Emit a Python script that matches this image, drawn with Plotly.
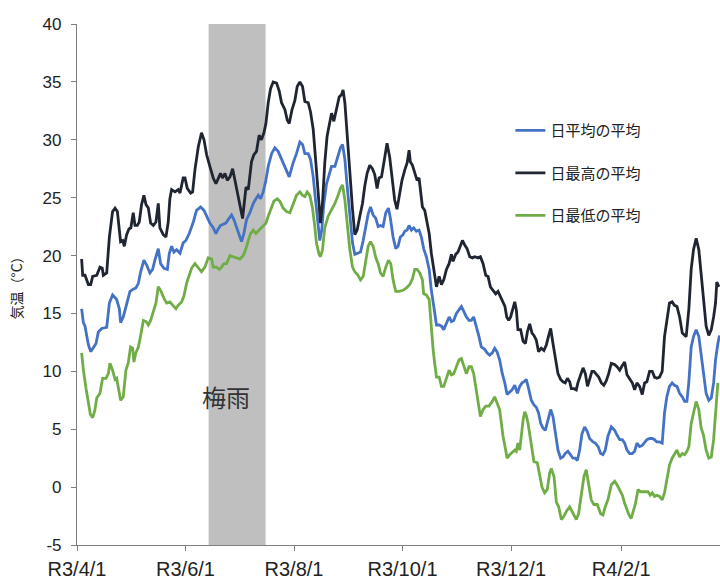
import pandas as pd
import plotly.graph_objects as go

START = pd.Timestamp("2021-04-01")

# ---- data: day offsets from R3/4/1 and values (°C) ----
avg_day = [2.6, 3.6, 4.5, 6.4, 7.7, 9.2, 10.7, 12.0, 13.9, 16.7, 18.2, 20.0, 22.3, 23.8, 24.5, 26.0, 27.9, 29.8,
           31.6, 33.1, 34.5, 35.8, 37.6, 39.1, 41.0, 42.5, 43.8, 45.7, 47.0, 48.9, 50.8, 51.9, 53.2, 54.5, 56.0,
           57.9, 59.7, 61.2, 63.1, 65.4, 67.2, 69.5, 71.4, 72.9, 74.7, 76.6, 78.1, 79.4, 80.7, 82.2, 83.7, 85.0,
           86.9, 88.2, 89.7, 91.2, 92.5, 93.8, 95.3, 97.2, 99.1, 100.6, 101.9, 103.2, 104.7, 106.2, 107.5, 109.4,
           111.2, 113.1, 115.0, 117.4, 119.3, 121.5, 123.4, 125.3, 126.8, 128.1, 130.0, 131.3, 132.8, 134.3,
           135.6, 136.5, 137.6, 138.8, 140.3, 141.8, 143.1, 145.0, 146.8, 148.1, 149.3, 150.6, 151.9, 153.4,
           154.9, 156.2, 158.0, 159.4, 160.9, 162.4, 163.7, 165.0, 166.5, 168.0, 169.3, 170.6, 172.1, 173.6,
           175.1, 176.2, 177.7, 179.2, 180.5, 181.8, 183.3, 184.3, 185.6, 186.7, 188.0, 189.3, 190.8, 192.3,
           193.6, 194.9, 196.4, 198.0, 199.2, 200.6, 202.1, 203.6, 204.9, 206.2, 207.7, 209.2, 210.5, 211.8,
           213.3, 214.8, 216.1, 217.4, 218.9, 220.4, 221.7, 223.0, 224.5, 226.0, 227.3, 229.2, 230.5, 232.0,
           233.5, 234.8, 236.1, 237.6, 239.1, 240.5, 241.8, 243.3, 244.6, 246.1, 247.6, 248.9, 250.2, 251.3,
           252.6, 253.9, 255.4, 256.9, 258.2, 259.5, 260.7, 262.0, 263.3, 264.8, 266.3, 267.6, 268.9, 270.4,
           271.9, 273.2, 274.5, 276.0, 277.5, 278.8, 280.1, 281.3, 282.6, 283.9, 285.4, 286.9, 288.2, 290.1,
           291.4, 293.0, 294.4, 295.7, 297.0, 298.5, 300.4, 302.3, 303.6, 305.1, 306.6, 307.9, 309.2, 310.7,
           312.2, 313.5, 314.8, 316.3, 317.8, 319.1, 320.4, 321.9, 323.4, 324.7, 326.0, 327.5, 329.0, 330.3,
           331.6, 333.1, 334.6, 335.9, 337.3, 338.8, 340.3, 341.6, 342.9, 344.0, 345.3, 346.6, 348.1, 349.6,
           350.9, 352.2, 353.7, 355.2, 356.6, 357.9, 359.0, 360.3, 361.2]
avg_val = [15.4, 14.2, 13.9, 12.3, 11.7, 12.0, 12.4, 13.4, 13.7, 13.8, 15.9, 16.6, 16.2, 15.4, 14.2, 14.7, 15.9, 16.9,
           17.1, 17.2, 17.6, 18.6, 19.6, 19.2, 18.5, 18.8, 19.6, 20.6, 19.3, 18.9, 18.8, 20.2, 20.8, 20.3, 20.5,
           20.2, 21.1, 21.3, 21.9, 22.9, 23.9, 24.2, 23.9, 23.4, 22.8, 22.4, 21.9, 22.3, 22.6, 22.7, 22.8, 23.1,
           23.5, 23.1, 22.4, 21.8, 21.2, 21.9, 23.1, 23.7, 24.5, 24.9, 25.2, 24.9, 25.5, 26.5, 27.7, 28.8,
           29.3, 29.0, 28.3, 27.4, 26.8, 28.0, 28.8, 29.8, 29.6, 28.8, 28.8, 28.3, 26.8, 24.5,
           22.5, 21.3, 22.2, 24.5, 26.2, 27.1, 27.7, 27.7, 28.7, 29.3, 29.6, 28.3, 26.0, 23.4,
           21.1, 20.1, 20.2, 20.3, 21.3, 22.5, 23.6, 24.2, 23.5, 23.2, 22.5, 22.6, 22.5, 23.7,
           24.1, 23.2, 21.6, 20.6, 20.8, 21.6, 21.8, 22.1, 22.2, 22.6, 22.2, 22.4, 22.1, 22.2,
           21.6, 20.6, 19.9, 18.8, 17.0, 15.6, 14.0, 14.0, 13.9, 13.6, 14.2, 14.7, 14.3, 14.4,
           15.0, 15.3, 15.6, 15.2, 14.7, 14.4, 14.4, 14.7, 13.9, 13.0, 12.1, 11.9, 11.6, 11.4,
           11.6, 12.0, 11.7, 11.0, 9.8, 9.0, 8.0, 8.2, 8.4, 8.8, 8.1, 8.7, 9.0, 9.1,
           9.3, 8.5, 7.5, 7.1, 6.9, 6.4, 5.5, 5.1, 4.9, 5.8, 6.7, 6.1, 4.6, 3.2,
           2.5, 2.6, 2.9, 3.1, 2.8, 2.5, 2.5, 2.3, 3.2, 4.6, 5.2, 4.8, 4.2, 3.9,
           3.8, 3.5, 2.9, 2.8, 3.2, 4.4, 5.2, 4.9, 4.5, 4.1, 4.1, 3.8, 3.2, 2.9,
           2.9, 3.1, 3.8, 3.5, 3.6, 3.9, 4.1, 4.2, 4.2, 4.1, 3.9, 3.9, 3.8, 6.4,
           7.8, 8.7, 9.0, 8.8, 8.7, 8.1, 7.8, 7.4, 7.4, 9.1, 12.1, 13.0, 13.6, 13.0,
           11.3, 9.8, 8.1, 7.5, 7.7, 9.0, 11.0, 12.4, 13.1]

max_day = [2.6, 3.2, 4.5, 6.4, 7.7, 8.8, 11.1, 12.9, 14.2, 14.8, 16.7, 18.2, 20.0, 21.4, 22.7, 23.8, 24.5, 25.7,
           26.6, 27.9, 29.2, 30.3, 31.6, 32.6, 33.9, 35.0, 36.3, 37.6, 38.8, 40.1, 41.4, 42.9, 44.4, 45.7, 46.6,
           48.5, 50.0, 51.3, 52.2, 53.2, 55.1, 56.9, 57.9, 59.7, 60.7, 62.0, 63.9, 65.0, 66.3, 68.2, 70.0, 71.4,
           72.9, 74.7, 76.6, 78.1, 79.4, 80.7, 81.8, 83.2, 84.5, 86.0, 87.5, 88.8, 90.1, 91.6, 93.1, 93.8, 95.0,
           96.3, 97.2, 98.1, 99.4, 100.9, 102.4, 103.7, 105.1, 106.2, 107.5, 108.8, 110.3, 112.2, 113.7, 115.0,
           116.9, 118.2, 119.3, 120.9, 122.5, 123.8, 125.3, 126.8, 128.1, 130.0, 131.3, 132.8, 134.3, 135.6,
           136.9, 138.0, 139.3, 140.6, 141.8, 143.1, 144.4, 145.9, 147.4, 148.7, 149.6, 150.6, 151.9, 153.4,
           154.9, 156.2, 157.5, 159.0, 160.5, 161.8, 163.1, 164.6, 166.1, 167.4, 168.7, 169.8, 171.2, 172.5,
           174.3, 175.8, 177.3, 178.6, 179.9, 181.3, 182.7, 184.3, 185.6, 186.7, 187.4, 188.6, 189.9, 191.2,
           192.3, 193.1, 194.2, 195.5, 196.8, 198.0, 199.2, 200.2, 201.1, 202.1, 203.6, 204.9, 206.2, 207.7,
           209.2, 210.5, 211.4, 212.9, 214.2, 215.5, 216.7, 218.0, 219.3, 220.8, 222.3, 223.6, 225.5, 226.8,
           228.3, 229.8, 231.1, 232.4, 233.9, 235.4, 236.7, 238.0, 239.5, 240.6, 241.6, 242.7, 243.8, 245.0,
           246.1, 247.0, 247.9, 249.4, 250.8, 252.1, 253.2, 254.5, 255.8, 256.9, 258.2, 259.5, 261.0, 262.5,
           263.9, 265.2, 266.3, 267.6, 268.9, 270.4, 271.9, 273.2, 274.5, 275.7, 277.0, 277.9, 279.4, 280.7,
           281.6, 283.2, 284.5, 285.8, 287.0, 288.2, 289.5, 290.6, 291.9, 293.3, 294.8, 296.2, 297.6, 298.9,
           300.4, 302.2, 303.6, 305.1, 306.6, 307.9, 309.2, 310.7, 312.2, 313.5, 314.8, 316.3, 317.8, 319.1,
           320.4, 321.9, 323.4, 324.7, 326.0, 327.5, 329.0, 330.3, 331.6, 333.1, 334.6, 335.9, 337.3, 338.8,
           340.3, 341.6, 342.5, 344.0, 345.3, 346.6, 348.1, 349.6, 350.9, 352.2, 353.7, 355.2, 356.6, 357.9,
           359.0, 359.7, 360.9]
max_val = [19.7, 18.3, 18.3, 17.5, 17.5, 18.2, 18.3, 19.0, 18.9, 18.3, 18.5, 21.6, 23.8, 24.1, 23.8, 22.1, 21.2, 21.3,
           20.8, 21.8, 22.3, 22.4, 23.7, 22.6, 22.6, 22.9, 24.4, 25.2, 24.4, 24.1, 22.8, 22.6, 22.9, 24.5, 22.4,
           21.8, 21.6, 22.9, 24.9, 25.7, 25.5, 25.7, 25.4, 26.7, 26.7, 25.8, 25.4, 25.5, 27.4, 29.4, 30.6, 30.0,
           28.7, 27.7, 26.7, 26.2, 26.7, 27.1, 26.7, 27.1, 26.5, 26.8, 27.5, 26.5, 25.7, 24.5, 23.2, 24.2, 25.9,
           25.7, 26.8, 28.1, 28.7, 29.0, 30.4, 30.0, 30.6, 31.4, 33.2, 34.4, 35.0, 34.9, 34.2, 33.2,
           32.6, 31.7, 31.4, 32.6, 33.4, 34.6, 35.0, 34.6, 33.3, 33.2, 32.4, 30.9, 28.0, 25.1,
           22.8, 24.5, 28.0, 30.3, 31.4, 32.3, 31.6, 32.6, 33.7, 33.9, 34.3, 33.2, 30.3, 27.4,
           24.0, 21.8, 22.2, 23.4, 24.5, 26.0, 27.1, 27.8, 27.5, 27.0, 25.8, 26.7, 26.8, 28.0,
           29.7, 28.5, 26.2, 24.8, 24.0, 25.2, 26.5, 27.4, 28.0, 29.1, 28.1, 27.8, 27.1, 26.5,
           26.7, 25.8, 24.2, 23.9, 22.8, 21.9, 20.2, 19.3, 18.5, 17.3, 18.2, 17.5, 17.9, 18.8,
           19.3, 20.1, 19.5, 20.1, 20.3, 20.8, 21.3, 20.9, 20.6, 19.9, 19.8, 19.9, 19.8, 19.9,
           19.3, 18.3, 18.2, 17.3, 17.0, 16.7, 16.9, 16.5, 15.9, 15.6, 14.7, 14.4, 14.7, 15.4,
           16.0, 15.3, 13.6, 13.6, 12.6, 12.4, 13.4, 14.1, 13.3, 13.1, 12.7, 11.7, 12.0, 11.8,
           12.3, 13.1, 13.7, 12.4, 11.0, 9.8, 9.3, 9.1, 9.0, 9.4, 9.1, 8.5, 8.5, 8.4,
           9.0, 9.8, 10.3, 9.8, 8.7, 9.3, 10.0, 10.0, 9.8, 9.5, 9.0, 8.8, 9.2, 9.8,
           10.7, 10.6, 10.4, 10.1, 10.5, 10.8, 9.7, 9.4, 9.0, 8.4, 9.0, 8.7, 8.0, 9.0,
           9.1, 10.0, 10.0, 9.5, 9.4, 9.5, 10.0, 13.0, 14.4, 15.9, 16.0, 15.7, 15.6, 14.7,
           13.3, 13.1, 13.0, 15.4, 18.8, 20.5, 21.5, 20.5, 18.2, 15.9, 13.9, 13.1, 13.6, 14.7,
           15.9, 17.7, 17.3]

min_day = [2.6, 3.6, 5.1, 6.4, 7.5, 8.8, 10.0, 11.1, 12.9, 14.4, 16.3, 17.6, 18.5, 20.0, 21.4, 22.3, 23.8, 24.5,
           26.0, 27.5, 28.8, 30.1, 31.3, 32.0, 33.1, 34.5, 35.8, 37.3, 38.8, 40.1, 41.4, 42.9, 44.4, 45.7, 47.0,
           48.9, 50.4, 52.2, 54.1, 55.6, 56.9, 58.8, 60.1, 61.6, 63.1, 64.4, 66.3, 68.2, 70.0, 71.9, 73.8, 75.7,
           76.6, 78.5, 80.0, 81.3, 82.6, 84.1, 86.0, 87.8, 89.7, 91.6, 93.5, 95.0, 96.3, 97.6, 99.1, 100.6,
           102.4, 104.3, 106.2, 107.5, 109.4, 110.7, 112.5, 114.0, 115.9, 117.8, 119.7, 121.5, 123.4, 125.3,
           126.8, 128.1, 129.4, 130.9, 132.4, 133.7, 134.6, 136.1, 136.9, 138.0, 139.3, 141.2, 143.1, 145.0,
           146.8, 148.1, 149.3, 150.6, 151.9, 153.4, 154.9, 156.2, 158.0, 159.4, 160.9, 162.4, 163.7, 165.0,
           166.5, 168.0, 169.3, 170.6, 172.1, 173.6, 175.1, 176.4, 177.7, 179.2, 181.1, 183.3, 185.2, 187.1,
           188.6, 189.9, 191.2, 192.7, 194.2, 194.9, 196.4, 198.0, 199.2, 200.2, 201.1, 202.1, 203.6, 204.9,
           206.2, 207.7, 209.2, 210.5, 211.8, 213.3, 214.8, 216.1, 217.4, 218.9, 220.4, 221.7, 223.0, 224.5,
           226.0, 226.8, 228.3, 229.8, 231.6, 233.5, 234.8, 236.1, 237.6, 238.6, 239.5, 241.0, 241.8, 243.3,
           244.8, 246.1, 247.0, 247.9, 248.9, 249.8, 250.8, 251.7, 252.6, 253.6, 255.1, 256.9, 258.8, 260.1,
           261.4, 262.9, 264.4, 265.7, 266.7, 268.2, 269.5, 270.8, 272.3, 273.8, 275.1, 277.0, 278.8, 280.7,
           282.0, 283.5, 285.0, 286.3, 287.6, 289.1, 290.6, 292.5, 294.4, 295.7, 297.0, 298.5, 300.4, 302.3,
           303.6, 305.1, 306.6, 307.9, 309.2, 310.3, 311.6, 312.9, 314.0, 315.4, 316.7, 318.2, 319.7, 321.0,
           322.3, 323.4, 324.7, 326.0, 327.5, 329.0, 330.3, 331.6, 333.1, 334.6, 335.9, 337.3, 338.8, 340.3,
           341.6, 342.9, 344.0, 345.3, 346.6, 348.1, 349.6, 350.9, 352.2, 353.7, 355.2, 356.6, 357.9, 359.0,
           360.3]
min_val = [11.6, 10.1, 8.5, 7.1, 6.3, 6.0, 6.6, 7.7, 8.1, 9.4, 9.4, 9.8, 10.7, 10.1, 9.3, 9.4, 7.8, 7.5,
           7.8, 10.1, 10.7, 12.1, 12.0, 10.8, 11.6, 12.1, 13.1, 14.4, 14.3, 14.0, 14.4, 15.2, 15.9, 17.3, 17.0,
           16.3, 15.9, 16.0, 15.7, 15.4, 15.7, 16.0, 16.5, 17.6, 18.3, 18.9, 19.3, 18.9, 18.6, 19.0, 19.8, 19.7,
           19.0, 19.0, 18.8, 19.0, 19.3, 19.3, 20.0, 19.9, 19.8, 19.7, 20.0, 20.6, 21.3, 21.9, 22.2, 21.9,
           22.2, 22.5, 22.8, 23.4, 24.2, 24.7, 24.9, 24.7, 24.1, 23.8, 23.7, 24.5, 25.2, 25.5,
           25.2, 25.1, 25.5, 25.2, 24.1, 22.5, 21.1, 20.1, 19.9, 20.5, 22.4, 23.4, 23.9, 24.5,
           25.2, 25.8, 26.1, 24.8, 22.8, 20.5, 19.0, 18.6, 18.3, 17.9, 18.2, 19.6, 20.8, 21.2,
           20.8, 19.8, 19.3, 18.5, 18.2, 19.0, 19.6, 19.3, 17.9, 16.9, 16.9, 17.0, 17.2, 17.5,
           18.0, 18.8, 18.8, 18.5, 17.9, 16.7, 16.6, 16.2, 13.6, 11.9, 10.7, 9.5, 9.5, 8.7,
           8.7, 9.4, 10.1, 9.7, 9.8, 10.4, 11.0, 11.1, 10.4, 9.8, 10.4, 10.4, 9.8, 8.4,
           7.2, 6.1, 6.7, 7.0, 7.0, 7.4, 7.8, 7.2, 6.7, 5.5, 4.4, 3.2, 2.5, 2.8,
           3.0, 3.2, 3.1, 3.8, 3.2, 4.6, 5.8, 6.5, 6.2, 5.5, 4.1, 2.2, 2.1, 0.9,
           0.0, -0.5, -0.2, 1.2, 1.6, 0.9, -1.3, -1.7, -2.8, -2.5, -2.1, -1.7, -2.3, -2.8,
           -2.3, -0.5, 0.9, 1.5, 0.3, -1.1, -1.5, -1.5, -2.3, -2.4, -1.7, -1.1, 0.2, 0.5,
           0.2, -0.2, -0.7, -1.4, -2.0, -2.4, -2.7, -2.1, -1.4, -0.2, -0.4, -0.4, -0.4, -0.4,
           -0.7, -0.5, -0.8, -0.7, -0.8, -1.1, -0.5, 0.6, 1.9, 2.5, 2.9, 3.2, 2.6, 2.9,
           2.8, 3.1, 3.5, 5.5, 6.4, 7.4, 6.7, 5.1, 4.5, 3.2, 2.5, 2.6, 4.1, 6.4,
           9.0]

series_names = ["日平均の平均", "日最高の平均", "日最低の平均"]
series_colors = ["#4472C4", "#1F2632", "#70AD47"]

tick_dates = ["2021-04-01", "2021-06-01", "2021-08-01", "2021-10-01", "2021-12-01", "2022-02-01"]
tick_labels = ["R3/4/1", "R3/6/1", "R3/8/1", "R3/10/1", "R3/12/1", "R4/2/1"]
y_tick_vals = [-5, 0, 5, 10, 15, 20, 25, 30, 35, 40]
y_tick_labels = ["-5", "0", "5", "10", "15", "20", "25", "30", "35", "40"]

tsuyu_start, tsuyu_end = "2021-06-14", "2021-07-16"
tsuyu_label = "梅雨"
tsuyu_label_date, tsuyu_label_y = "2021-06-24", 7.8


def to_dates(days):
    return START + pd.to_timedelta(days, unit="D")


FONT = "Noto Sans CJK JP, Noto Sans, sans-serif"
TICK_FONT = "Liberation Sans, Arial, sans-serif"
AXIS_GRAY = "#7F7F7F"

fig = go.Figure()
fig.add_vrect(x0=tsuyu_start, x1=tsuyu_end, fillcolor="#BFBFBF", opacity=1,
              line_width=0, layer="below")

for i, (d, v) in enumerate([(avg_day, avg_val), (max_day, max_val), (min_day, min_val)]):
    fig.add_trace(go.Scatter(x=to_dates(d), y=v, mode="lines", name=series_names[i],
                             legendgroup=str(i),
                             line=dict(color=series_colors[i], width=2.8)))

fig.add_annotation(x=tsuyu_label_date, y=tsuyu_label_y, text=tsuyu_label, showarrow=False,
                   font=dict(size=24, color="#333333", family=FONT))

fig.update_layout(
    width=720, height=578,
    margin=dict(l=77, r=0, t=24, b=33),
    paper_bgcolor="white", plot_bgcolor="white",
    font=dict(family=FONT, color="#222222"),
    showlegend=True,
    legend=dict(x=0.674, y=0.827, xanchor="left", yanchor="top",
                font=dict(size=15, color="#222222", family=FONT),
                tracegroupgap=20, bgcolor="rgba(0,0,0,0)", itemwidth=30),
    xaxis=dict(type="date", range=[START, START + pd.Timedelta(days=361.5)],
               tickvals=tick_dates, ticktext=tick_labels,
               ticks="outside", ticklen=5, tickcolor=AXIS_GRAY,
               showline=True, linecolor=AXIS_GRAY, linewidth=1.2,
               showgrid=False, zeroline=False, ticklabelstandoff=1, automargin=False,
               tickfont=dict(size=20, color="#222222", family=TICK_FONT)),
    yaxis=dict(range=[-5, 40], tickvals=y_tick_vals, ticktext=y_tick_labels,
               ticks="outside", ticklen=5, tickcolor=AXIS_GRAY,
               showline=True, linecolor=AXIS_GRAY, linewidth=1.2,
               showgrid=False, zeroline=False, ticklabelstandoff=6, automargin=False,
               tickfont=dict(size=17, color="#222222", family=TICK_FONT)),
)
fig.update_yaxes(title=dict(text="気温（°C）", font=dict(size=14, color="#222222"), standoff=16))

# remove the default page margin so the figure sits at the window's top-left corner
fig.write_html("out.html", config={"displayModeBar": False},
               post_script="document.body.style.margin='0px';document.body.style.overflow='hidden';")
